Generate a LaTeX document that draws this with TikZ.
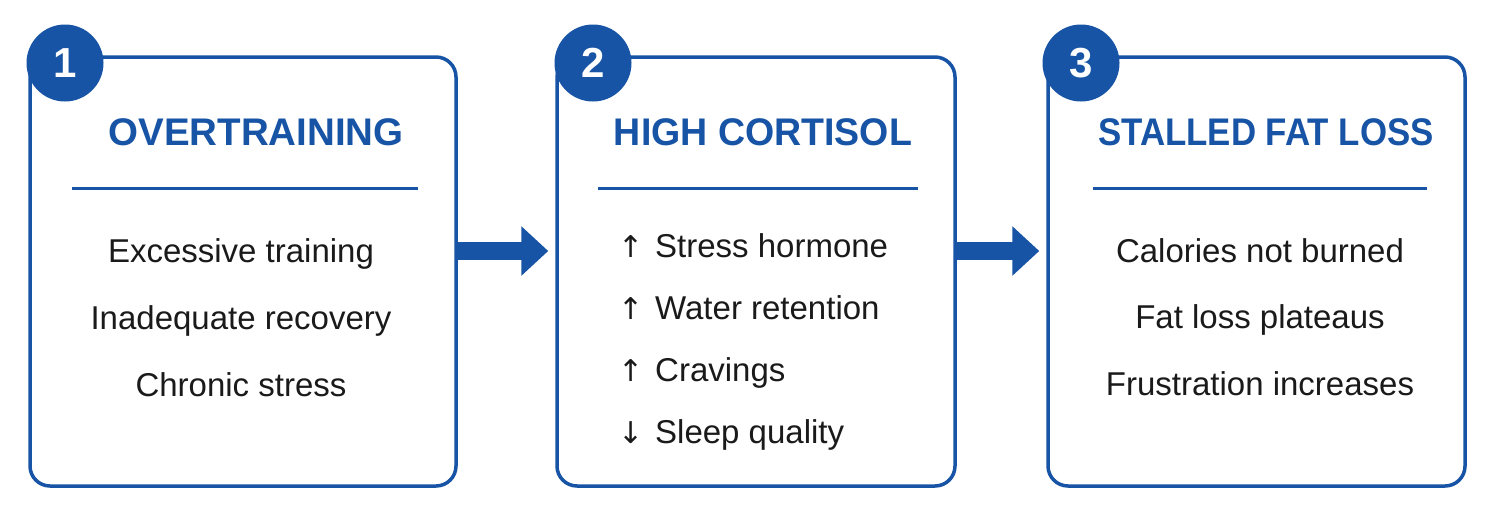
\documentclass[tikz,border=0pt]{standalone}
\usepackage{fontspec}
\setmainfont{Liberation Sans}
\newfontfamily\arrowfont{DejaVu Sans}
\usetikzlibrary{arrows.meta}
\definecolor{mainblue}{RGB}{24,84,165}
\definecolor{ink}{RGB}{26,26,26}
\definecolor{bgc}{RGB}{255,255,255}
\newcommand{\glyphbox}[1]{\makebox[34pt][l]{\hspace*{-3pt}{\arrowfont\fontsize{30}{30}\selectfont #1}}}
\begin{document}
\begin{tikzpicture}[x=1pt,y=-1pt,
  box/.style={draw=mainblue, line width=3.5pt, rounded corners=20pt, fill=white, inner sep=0pt},
  badge/.style={circle, fill=mainblue, minimum size=77pt, inner sep=0pt, text=white, font=\fontsize{42}{42}\selectfont\bfseries},
  heading/.style={anchor=base, text=mainblue, font=\fontsize{38.5}{40}\selectfont\bfseries, inner sep=0pt},
  item/.style={anchor=base, text=ink, font=\fontsize{33}{40}\selectfont, inner sep=0pt},
  litem/.style={item, anchor=base west},
  sep/.style={draw=mainblue, line width=3pt},
  bigarrow/.style={draw=mainblue, line width=18pt, -{Triangle[length=27pt 0 1, width=48pt 0 1]}, shorten >=7pt}
]
\fill[bgc] (0,0) rectangle (1491,512);
\useasboundingbox (0,0) rectangle (1491,512);

% boxes
\node[box, minimum width=426pt, minimum height=429pt] (b1) at (243,271.5) {};
\node[box, minimum width=398pt, minimum height=429pt] (b2) at (756,271.5) {};
\node[box, minimum width=417pt, minimum height=429pt] (b3) at (1256.5,271.5) {};

% badges
\node[badge] (c1) at (65,63) {1};
\node[badge] (c2) at (593,63) {2};
\node[badge] (c3) at (1081,63) {3};

% headings
\node[heading] (h1) at (256,145) {OVERTRAINING};
\node[heading] (h2) at (763,145) {\scalebox{0.975}[1]{HIGH CORTISOL}};
\node[heading] (h3) at (1266,145) {\scalebox{0.905}[1]{STALLED FAT LOSS}};

% separators
\draw[sep] (72,188) -- (418,188);
\draw[sep] (598,188) -- (918,188);
\draw[sep] (1093,188) -- (1427,188);

% box 1 items
\node[item] (t11) at (241,262) {Excessive training};
\node[item] (t12) at (241,329) {Inadequate recovery};
\node[item] (t13) at (241,396) {Chronic stress};

% box 2 items
\node[litem] (t21) at (621,257) {\glyphbox{↑}Stress hormone};
\node[litem] (t22) at (621,319) {\glyphbox{↑}Water retention};
\node[litem] (t23) at (621,381) {\glyphbox{↑}Cravings};
\node[litem] (t24) at (621,443) {\glyphbox{↓}Sleep quality};

% box 3 items
\node[item] (t31) at (1260,262) {Calories not burned};
\node[item] (t32) at (1260,328) {Fat loss plateaus};
\node[item] (t33) at (1260,395) {Frustration increases};

% arrows
\coordinate (lvl) at (0,251);
\draw[bigarrow] (b1.east |- lvl) -- (b2.west |- lvl);
\draw[bigarrow] (b2.east |- lvl) -- (b3.west |- lvl);
\end{tikzpicture}
\end{document}
